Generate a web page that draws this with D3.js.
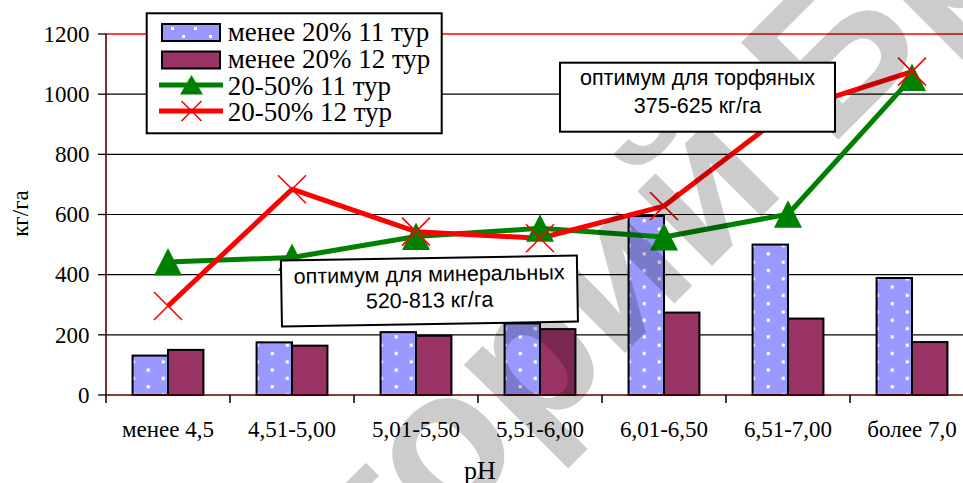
<!DOCTYPE html>
<html>
<head>
<meta charset="utf-8">
<script src="https://cdn.jsdelivr.net/npm/d3@7"></script>
<style>
  html, body { margin: 0; padding: 0; background: #fff; }
  svg { display: block; }
</style>
</head>
<body>
<svg id="chart" width="963" height="483"></svg>
<script>
// ---- data -------------------------------------------------------------
const categories = ["менее 4,5", "4,51-5,00", "5,01-5,50", "5,51-6,00", "6,01-6,50", "6,51-7,00", "более 7,0"];
const seriesNames = ["менее 20% 11 тур", "менее 20% 12 тур", "20-50% 11 тур", "20-50% 12 тур"];
const below20Tour11 = [131, 175, 209, 238, 595, 500, 389];
const below20Tour12 = [150, 164, 197, 219, 274, 254, 176];
const mid2050Tour11 = [442, 457, 527, 554, 525, 601, 1055];
const mid2050Tour12 = [296, 684, 543, 521, 628, 943, 1075];
const yTicks = [0, 200, 400, 600, 800, 1000, 1200];
const peatNote = ["оптимум для торфяных", "375-625 кг/га"];
const mineralNote = ["оптимум для минеральных", "520-813 кг/га"];
const yTitle = "кг/га";
const xTitle = "pH";
const watermark = ["Репозиторий", "БрГУ"];

// ---- layout -----------------------------------------------------------
const svg = d3.select("#chart");
const W = 963, H = 483;
const plot = { left: 106, right: 974, top: 34, bottom: 395 };
const serif = "'Liberation Serif', 'Times New Roman', serif";
const sans = "'Liberation Sans', Arial, sans-serif";

const x = d3.scaleBand().domain(categories).range([plot.left, plot.right]);
const xs = d3.scaleBand().domain([0, 1]).range([0, x.bandwidth()]).paddingOuter(0.75);
const y = d3.scaleLinear().domain([0, 1200]).range([plot.bottom, plot.top]);
const cx = c => x(c) + x.bandwidth() / 2;

const defs = svg.append("defs");
const gPlot = svg.append("g");
const gMark = svg.append("g");
const gNotes = svg.append("g");
const gText = svg.append("g");

// gridlines and the red top edge of the plot area
gPlot.selectAll("line.grid").data(yTicks.filter(t => t > 0 && t < 1200)).join("line")
  .attr("class", "grid")
  .attr("x1", plot.left).attr("x2", W)
  .attr("y1", d => y(d)).attr("y2", d => y(d))
  .attr("stroke", "#000").attr("stroke-width", 1.2);
gPlot.append("line")
  .attr("x1", plot.left).attr("x2", W)
  .attr("y1", y(1200)).attr("y2", y(1200))
  .attr("stroke", "#ff0000").attr("stroke-width", 1.3);

// dotted fill for the first bar series, one pattern per bar so the dots line up with each bar
function dotPattern(id, bx) {
  const p = defs.append("pattern").attr("id", id)
    .attr("patternUnits", "userSpaceOnUse")
    .attr("x", bx - 6.8).attr("y", plot.bottom - 20.75)
    .attr("width", 30).attr("height", 16.6);
  p.append("rect").attr("width", 30).attr("height", 16.6).attr("fill", "#9999ff");
  p.append("rect").attr("x", 7.5 - 1.6).attr("y", 4.15 - 1.6).attr("width", 3.2).attr("height", 3.2).attr("fill", "#fff");
  p.append("rect").attr("x", 22.5 - 1.6).attr("y", 12.45 - 1.6).attr("width", 3.2).attr("height", 3.2).attr("fill", "#fff");
}
categories.forEach((c, i) => dotPattern("dots" + i, x(c) + xs(0)));

// bars
gPlot.selectAll("rect.b11").data(below20Tour11).join("rect")
  .attr("class", "b11")
  .attr("x", (d, i) => x(categories[i]) + xs(0))
  .attr("y", d => y(d))
  .attr("width", xs.bandwidth())
  .attr("height", d => y(0) - y(d))
  .attr("fill", (d, i) => `url(#dots${i})`)
  .attr("stroke", "#000").attr("stroke-width", 2);
gPlot.selectAll("rect.b12").data(below20Tour12).join("rect")
  .attr("class", "b12")
  .attr("x", (d, i) => x(categories[i]) + xs(1))
  .attr("y", d => y(d))
  .attr("width", xs.bandwidth())
  .attr("height", d => y(0) - y(d))
  .attr("fill", "#993366")
  .attr("stroke", "#000").attr("stroke-width", 2);

// axis lines and ticks
gPlot.append("line").attr("x1", plot.left).attr("x2", plot.left).attr("y1", plot.top).attr("y2", plot.bottom)
  .attr("stroke", "#5a0000").attr("stroke-width", 1.6);
gPlot.append("line").attr("x1", plot.left).attr("x2", W).attr("y1", plot.bottom).attr("y2", plot.bottom)
  .attr("stroke", "#5a0000").attr("stroke-width", 1.6);
gPlot.selectAll("line.yt").data(yTicks).join("line")
  .attr("x1", plot.left - 8).attr("x2", plot.left)
  .attr("y1", d => y(d)).attr("y2", d => y(d))
  .attr("stroke", "#000").attr("stroke-width", 1.3);
gPlot.selectAll("line.xt").data(categories).join("line")
  .attr("x1", d => x(d)).attr("x2", d => x(d))
  .attr("y1", plot.bottom).attr("y2", plot.bottom + 8)
  .attr("stroke", "#000").attr("stroke-width", 1.5);

// line series with markers
const line = d3.line().x((d, i) => cx(categories[i])).y(d => y(d));
gPlot.append("path").datum(mid2050Tour11).attr("d", line)
  .attr("fill", "none").attr("stroke", "#008000").attr("stroke-width", 5).attr("stroke-linejoin", "round");
gPlot.append("path").datum(mid2050Tour12).attr("d", line)
  .attr("fill", "none").attr("stroke", "#ff0000").attr("stroke-width", 5).attr("stroke-linejoin", "round");
const triPath = "M0,-14L14,13.5L-14,13.5Z";
const crossPath = "M-14,-14L14,14M-14,14L14,-14";
gPlot.selectAll("path.tri").data(mid2050Tour11).join("path")
  .attr("class", "tri")
  .attr("transform", (d, i) => `translate(${cx(categories[i])},${y(d)})`)
  .attr("d", triPath).attr("fill", "#008000");
gPlot.selectAll("path.cross").data(mid2050Tour12).join("path")
  .attr("class", "cross")
  .attr("transform", (d, i) => `translate(${cx(categories[i])},${y(d)})`)
  .attr("d", crossPath).attr("fill", "none").attr("stroke", "#ff0000").attr("stroke-width", 1.6);

// repository stamp across the chart
const wm = gMark.append("g").attr("transform", "translate(809,169) rotate(-45)")
  .attr("font-family", sans).attr("font-weight", "bold").attr("font-size", 200)
  .attr("fill", "#000").attr("fill-opacity", 0.2);
wm.append("text").attr("x", -28).attr("text-anchor", "end").text(watermark[0]);
wm.append("text").attr("x", 28).attr("text-anchor", "start").text(watermark[1]);

// note boxes
function note(g, lines, w, h, b1, b2) {
  g.append("rect").attr("x", -w / 2).attr("y", -h / 2).attr("width", w).attr("height", h)
    .attr("fill", "#fff").attr("stroke", "#000").attr("stroke-width", 2);
  const t = g.append("g").attr("font-family", sans).attr("font-size", 21.5).attr("text-anchor", "middle").attr("fill", "#000");
  t.append("text").attr("y", b1).text(lines[0]);
  t.append("text").attr("y", b2).text(lines[1]);
}
note(gNotes.append("g").attr("transform", "translate(697.5,97.2)"), peatNote, 275, 69, -12.2, 16.1);
note(gNotes.append("g").attr("transform", "translate(429.4,291) rotate(-0.95)"), mineralNote, 296, 66, -9.5, 16.5);

// legend
const lg = gNotes.append("g");
lg.append("rect").attr("x", 146.7).attr("y", 13.3).attr("width", 295).attr("height", 120)
  .attr("fill", "#fff").attr("stroke", "#000").attr("stroke-width", 2);
const rowY = [32.5, 60, 85, 111];
lg.append("rect").attr("x", 162).attr("y", rowY[0] - 8.5).attr("width", 58).attr("height", 17)
  .attr("fill", "#9999ff").attr("stroke", "#000").attr("stroke-width", 2);
[[171, 27], [194, 27], [209, 35], [182, 35]].forEach(p =>
  lg.append("rect").attr("x", p[0]).attr("y", p[1]).attr("width", 3).attr("height", 3).attr("fill", "#fff"));
lg.append("rect").attr("x", 162).attr("y", rowY[1] - 8.5).attr("width", 58).attr("height", 17)
  .attr("fill", "#993366").attr("stroke", "#000").attr("stroke-width", 2);
lg.append("line").attr("x1", 159).attr("x2", 223).attr("y1", rowY[2]).attr("y2", rowY[2])
  .attr("stroke", "#008000").attr("stroke-width", 5);
lg.append("path").attr("transform", `translate(191.5,${rowY[2]})`).attr("d", "M0,-10L11.5,9.5L-11.5,9.5Z").attr("fill", "#008000");
lg.append("line").attr("x1", 159).attr("x2", 223).attr("y1", rowY[3]).attr("y2", rowY[3])
  .attr("stroke", "#ff0000").attr("stroke-width", 5);
lg.append("path").attr("transform", `translate(191.5,${rowY[3]})`).attr("d", "M-10,-10L10,10M-10,10L10,-10")
  .attr("stroke", "#ff0000").attr("stroke-width", 1.6);
const legBase = [40.5, 68, 95, 121];
lg.selectAll("text").data(seriesNames).join("text")
  .attr("x", 227.7).attr("y", (d, i) => legBase[i])
  .attr("font-family", serif).attr("font-size", 27).attr("fill", "#000")
  .text(d => d);

// axis labels and titles
gText.selectAll("text.yl").data(yTicks).join("text")
  .attr("class", "yl")
  .attr("x", 89.5).attr("y", d => y(d) + 7.7)
  .attr("text-anchor", "end").attr("font-family", serif).attr("font-size", 23).attr("fill", "#000")
  .text(d => d);
gText.selectAll("text.xl").data(categories).join("text")
  .attr("class", "xl")
  .attr("x", d => cx(d)).attr("y", 437)
  .attr("text-anchor", "middle").attr("font-family", serif).attr("font-size", 23).attr("fill", "#000")
  .text(d => d);
gText.append("text").attr("x", 480).attr("y", 479)
  .attr("text-anchor", "middle").attr("font-family", serif).attr("font-size", 26).attr("fill", "#000")
  .text(xTitle);
gText.append("text").attr("transform", "translate(28,213.5) rotate(-90)")
  .attr("text-anchor", "middle").attr("font-family", serif).attr("font-size", 23).attr("fill", "#000")
  .text(yTitle);
</script>
</body>
</html>
